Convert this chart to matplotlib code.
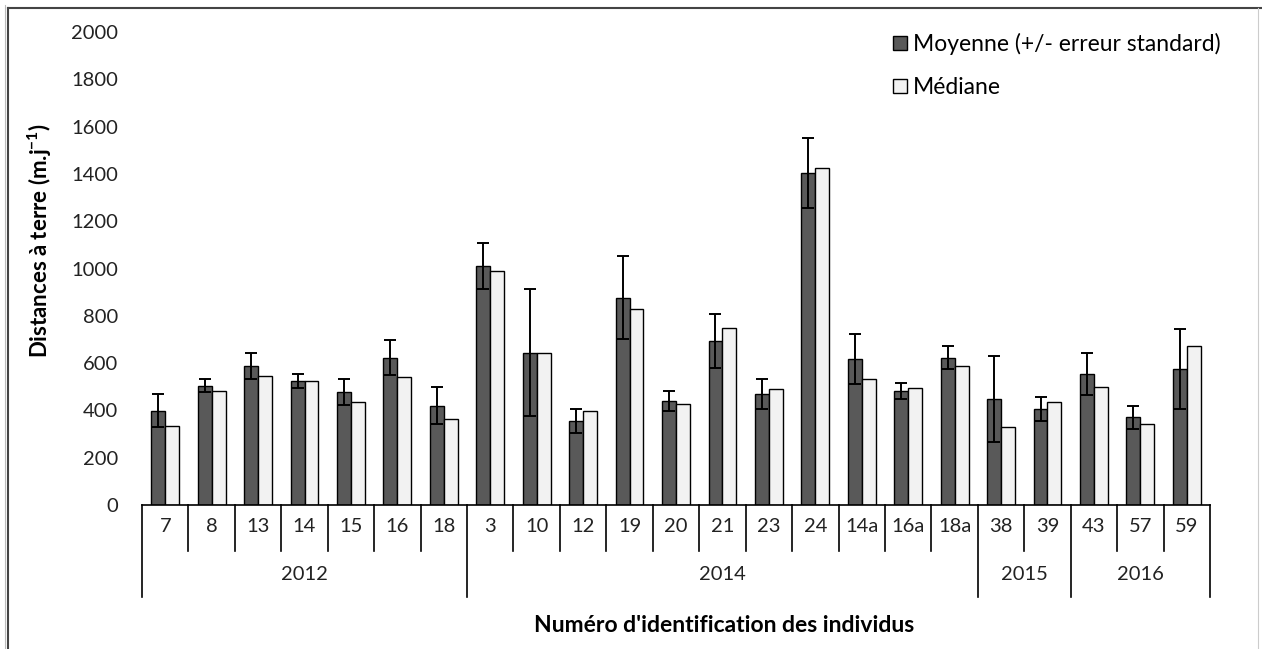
import matplotlib
matplotlib.use("Agg")
import matplotlib.pyplot as plt
from matplotlib.patches import Patch
from matplotlib.lines import Line2D
import numpy as np

plt.rcParams['font.family'] = ['Lato', 'DejaVu Sans']
plt.rcParams['mathtext.fontset'] = 'custom'
plt.rcParams['mathtext.rm'] = 'Lato:bold'
plt.rcParams['mathtext.bf'] = 'Lato:bold'

individus = ["7", "8", "13", "14", "15", "16", "18",
             "3", "10", "12", "19", "20", "21", "23", "24", "14a", "16a", "18a",
             "38", "39",
             "43", "57", "59"]
annees = ["2012", "2014", "2015", "2016"]
n_par_annee = [7, 11, 2, 3]
moyenne = [399, 504, 589, 524, 476, 623, 420,
           1011, 644, 355, 877, 440, 693, 468, 1405, 616, 482, 623,
           448, 405,
           554, 371, 575]
erreur = [70, 27, 55, 29, 55, 75, 78,
          98, 268, 50, 176, 42, 113, 63, 148, 106, 35, 49,
          182, 50,
          90, 49, 169]
mediane = [335, 483, 547, 526, 434, 540, 364,
           989, 644, 397, 827, 426, 750, 489, 1426, 531, 496, 588,
           329, 434,
           498, 342, 672]

W, H = 1262, 649
fig = plt.figure(figsize=(W / 100, H / 100), dpi=100)
ax = fig.add_axes([142 / W, (H - 505) / H, (1210 - 142) / W, 473 / H])

x = np.arange(len(individus))
bw = 0.3
dark = '#595959'
light = '#f2f2f2'
ax.bar(x - bw / 2, moyenne, bw, color=dark, edgecolor='black', linewidth=1.0, zorder=2)
ax.bar(x + bw / 2, mediane, bw, color=light, edgecolor='black', linewidth=1.0, zorder=2)
ax.errorbar(x - bw / 2, moyenne, yerr=erreur, fmt='none', ecolor='black',
            elinewidth=1.4, capsize=4, capthick=1.4, zorder=3)

ax.set_xlim(-0.5, len(individus) - 0.5)
ax.set_ylim(0, 2000)
ax.set_yticks(np.arange(0, 2001, 200))
ax.tick_params(axis='y', length=0, labelsize=14.5, pad=17, colors='#222222')
ax.tick_params(axis='x', length=0, labelbottom=False)
for s in ['left', 'top', 'right']:
    ax.spines[s].set_visible(False)
ax.spines['bottom'].set_linewidth(1.2)

trans = ax.get_xaxis_transform()
short = -46 / 473
long_ = -92 / 473
bounds_year = set(np.cumsum([0] + n_par_annee))
for b in range(len(individus) + 1):
    depth = long_ if b in bounds_year else short
    ax.plot([b - 0.5, b - 0.5], [0, depth], transform=trans, color='black',
            lw=1.2, clip_on=False)
for i, lab in enumerate(individus):
    ax.text(i, -21 / 473, lab, transform=trans, ha='center', va='center',
            fontsize=14.5, color='#222222')
start = 0
for yr, n in zip(annees, n_par_annee):
    ax.text(start + n / 2 - 0.5, -70 / 473, yr, transform=trans, ha='center',
            va='center', fontsize=14.5, color='#222222')
    start += n

fig.text(40 / W, 1 - 241 / H, r'Distances à terre (m.j$^{-1}$)', rotation=90,
         ha='center', va='center', fontsize=16, fontweight='bold')
fig.text(724 / W, 1 - 626 / H, "Numéro d'identification des individus",
         ha='center', va='center', fontsize=16.5, fontweight='bold')

handles = [Patch(facecolor=dark, edgecolor='black', linewidth=1.0),
           Patch(facecolor=light, edgecolor='black', linewidth=1.0)]
leg = fig.legend(handles, ['Moyenne (+/- erreur standard)', 'Médiane'],
                 loc='upper left', bbox_to_anchor=(884 / W, 1 - 24 / H),
                 frameon=False, fontsize=16.5, handlelength=0.6,
                 handleheight=0.6, handletextpad=0.25, labelspacing=0.95,
                 borderaxespad=0)

fig.add_artist(Line2D([8 / W, 8 / W], [0, 1 - 8 / H], color='#444444', lw=1.5))
fig.add_artist(Line2D([8 / W, 1], [1 - 8 / H, 1 - 8 / H], color='#444444', lw=1.5))
fig.add_artist(Line2D([5 / W, 5 / W], [0, 1 - 5 / H], color='#bbbbbb', lw=0.8))
fig.add_artist(Line2D([1258 / W, 1258 / W], [0, 1 - 8 / H], color='#cccccc', lw=0.8))

fig.savefig('out.png', dpi=100)
